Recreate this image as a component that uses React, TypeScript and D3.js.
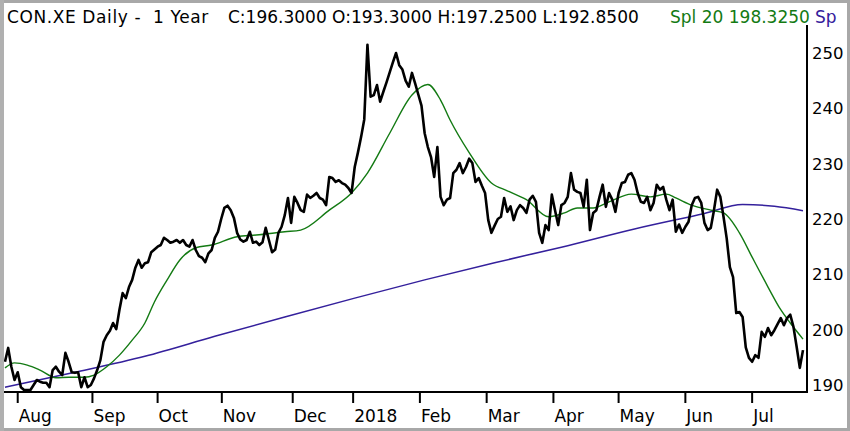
import { useEffect, useRef } from 'react';
import * as d3 from 'd3';

// daily closes, one per trading session (Jul 2017 - Jul 2018)
const closes = [
  194.2, 196.7, 193.3, 190.9, 192.3, 189.6, 189.1, 189.1, 189.1, 190,
  190.9, 190.6, 190.4, 190.4, 189.6, 192.7, 193.3, 192.4, 191.8, 195.8,
  194.2, 192.3, 192.2, 192.3, 189.6, 191.4, 189.6, 190, 191.2, 192.7,
  194.5, 197.8, 199, 199.8, 201.2, 200.1, 203.6, 206.6, 205.7, 207.7,
  209, 211.2, 212.6, 211.2, 212, 212.2, 214, 214.5, 215, 215.3,
  216.6, 216.2, 215.7, 215.9, 216.2, 215.7, 216.2, 215.3, 215, 216.2,
  214.4, 213.3, 213, 212.2, 213.8, 214.4, 216.6, 217.7, 220, 222,
  222.4, 221.6, 220.2, 217.5, 216.3, 215.9, 216.2, 217.7, 215.7, 215.9,
  215.3, 215.8, 218.4, 216.2, 214, 214.5, 217.5, 218.6, 220.7, 223.8,
  219.3, 224, 222.9, 221.6, 221.3, 224.4, 223.8, 224.2, 224.7, 223.8,
  223.5, 222.5, 227.6, 227.4, 226.7, 227, 226.5, 226.2, 225.6, 224.7,
  229.4, 232, 234.8, 238, 251.5, 242.1, 242.4, 244.2, 241.2, 243,
  244.7, 246.5, 248.3, 250, 247.8, 247, 245, 243.9, 246.4, 244.5,
  242.5, 240.5, 235.5, 233, 231.2, 227.6, 233, 224, 222.5, 223.5,
  223.8, 228.3, 228.9, 230.1, 228.3, 229.4, 230.9, 230.1, 226.7, 227.4,
  226, 224.7, 219.8, 217.5, 218.8, 220, 220.4, 223.8, 221.3, 222.3,
  219.8, 221.6, 222.5, 222, 221.1, 223.5, 224.2, 223.1, 217.5, 215.7,
  218.9, 218, 224.4, 221.6, 218.9, 222.5, 222.9, 224, 228.3, 225.3,
  224.9, 224.7, 222.2, 227.1, 218, 221.1, 221.6, 224, 226.2, 222.2,
  224.7, 223.5, 221.3, 224.7, 226.5, 226.7, 228, 228.3, 227.1, 224.7,
  223.1, 222.9, 224, 221.6, 222.9, 226.2, 225.3, 225.8, 223.5, 221.6,
  223.5, 217.7, 219, 217.5, 218.6, 219.5, 222.5, 223.8, 224, 222.9,
  219.3, 218, 218.4, 221.6, 225.3, 224, 220.4, 216.5, 211.3, 209.5,
  203, 203.2, 202.3, 196.8, 194.9, 194.2, 195.4, 194.9, 199.6, 198.7,
  200.3, 199, 199.9, 201, 202.1, 200.8, 202.1, 202.7, 200.5, 196.9,
  193.1, 196.3,
];

// 20-day average, read at these sessions
const sma20Days = [0, 3, 7, 11, 16, 20, 25, 28, 32, 36, 40, 44, 47, 51, 55, 60, 65, 73, 79, 88,
  93, 102, 109, 114, 121, 128, 133, 137, 140, 146, 153, 158, 164, 171, 176, 180, 185, 190, 197,
  203, 208, 211, 216, 222, 226, 231, 235, 240, 244, 247, 251];
const sma20 = [193.1, 194, 193.6, 192.7, 191.3, 191.4, 191.4, 191.8, 193.3, 195.4, 198.1, 201.2,
  205, 209, 212.6, 214.8, 215.3, 216.8, 217.1, 217.7, 218, 221.6, 224.7, 228.3, 235.5, 242.4,
  244.3, 241.5, 237.9, 232, 226.5, 225.1, 223.5, 220.4, 221.1, 222, 222, 223.1, 224.5, 224,
  224.5, 223.8, 222.5, 221.6, 221.1, 217.5, 213.1, 207.7, 203.6, 201.2, 198.3];

// long average
const sma200Days = [0, 22, 44, 66, 88, 110, 132, 154, 175, 198, 220, 232, 242, 251];
const sma200 = [189.6, 192.3, 195.2, 198.8, 202.3, 205.7, 209.0, 212.1, 214.9, 218.2, 221.0,
  222.6, 222.3, 221.5];

const monthLabels = ['Aug', 'Sep', 'Oct', 'Nov', 'Dec', '2018', 'Feb', 'Mar', 'Apr', 'May', 'Jun', 'Jul'];
const monthStarts = [4, 27.5, 48, 68.2, 90.5, 109.5, 130.5, 151.5, 172.5, 193, 214, 235];
const priceTicks = [190, 200, 210, 220, 230, 240, 250];

const W = 850;
const H = 431;
const FONT = '"DejaVu Sans", Verdana, sans-serif';
const GREEN = '#137a13';
const PURPLE = '#34209c';

const App = () => {
  const ref = useRef(null);

  useEffect(() => {
    document.body.style.margin = '0';
    const svg = d3.select(ref.current);
    svg.selectAll('*').remove();

    const x = d3.scaleLinear().domain([0, closes.length - 1]).range([5, 803]);
    const y = d3.scaleLinear().domain([190, 250]).range([385, 53]);
    const axisY = 392;
    const axisX = 807;

    svg.append('rect').attr('width', W).attr('height', H).attr('fill', '#fff');

    // long average
    const line200 = d3.line<number>()
      .x((d, i) => x(sma200Days[i]))
      .y(d => y(d))
      .curve(d3.curveMonotoneX);
    svg.append('path')
      .attr('d', line200(sma200))
      .attr('fill', 'none')
      .attr('stroke', PURPLE)
      .attr('stroke-width', 1.5);

    const line20 = d3.line<number>()
      .x((d, i) => x(sma20Days[i]))
      .y(d => y(d))
      .curve(d3.curveMonotoneX);
    svg.append('path')
      .attr('d', line20(sma20))
      .attr('fill', 'none')
      .attr('stroke', GREEN)
      .attr('stroke-width', 1.4);

    const priceLine = d3.line<number>()
      .x((d, i) => x(i))
      .y(d => y(d));
    svg.append('path')
      .attr('d', priceLine(closes))
      .attr('fill', 'none')
      .attr('stroke', '#000')
      .attr('stroke-width', 2.6)
      .attr('stroke-linejoin', 'round');

    // axes
    svg.append('line')
      .attr('x1', 4).attr('x2', axisX + 1)
      .attr('y1', axisY).attr('y2', axisY)
      .attr('stroke', '#000').attr('stroke-width', 2);
    svg.append('line')
      .attr('x1', axisX).attr('x2', axisX)
      .attr('y1', 25).attr('y2', axisY + 1)
      .attr('stroke', '#000').attr('stroke-width', 2);

    const months = svg.append('g');
    monthStarts.forEach((m, i) => {
      months.append('line')
        .attr('x1', x(m)).attr('x2', x(m))
        .attr('y1', axisY).attr('y2', axisY + 11)
        .attr('stroke', '#000').attr('stroke-width', 2);
      months.append('text')
        .attr('x', x(m) + 1)
        .attr('y', 422)
        .attr('font-family', FONT)
        .attr('font-size', 17)
        .attr('fill', '#000')
        .text(monthLabels[i]);
    });

    svg.append('g').selectAll('text').data(priceTicks).enter().append('text')
      .attr('x', 812)
      .attr('y', d => y(d) + 6)
      .attr('font-family', FONT)
      .attr('font-size', 16.5)
      .attr('fill', '#000')
      .text(d => d);

    // header
    const title = svg.append('text')
      .attr('y', 23)
      .attr('font-family', FONT)
      .attr('font-size', 17)
      .style('white-space', 'pre');
    title.append('tspan').attr('x', 7).attr('fill', '#000')
      .attr('letter-spacing', 0.6)
      .text('CON.XE Daily -  1 Year');
    title.append('tspan').attr('x', 228).attr('fill', '#000')
      .text('C:196.3000 O:193.3000 H:197.2500 L:192.8500');
    title.append('tspan').attr('x', 670).attr('fill', GREEN).text('Spl 20 198.3250');
    title.append('tspan').attr('x', 815).attr('fill', PURPLE).text('Sp');

    // frame
    svg.append('rect')
      .attr('x', 1.5).attr('y', 1.5)
      .attr('width', W - 3).attr('height', H - 3)
      .attr('fill', 'none')
      .attr('stroke', '#a8a8a8')
      .attr('stroke-width', 3);
    svg.append('rect')
      .attr('x', 0).attr('y', 0).attr('width', 4).attr('height', H)
      .attr('fill', '#b0b0b0');
  }, []);

  return (
    <svg ref={ref} width={W} height={H} style={{ position: 'absolute', left: 0, top: 0, display: 'block' }} />
  );
};

export default App;
